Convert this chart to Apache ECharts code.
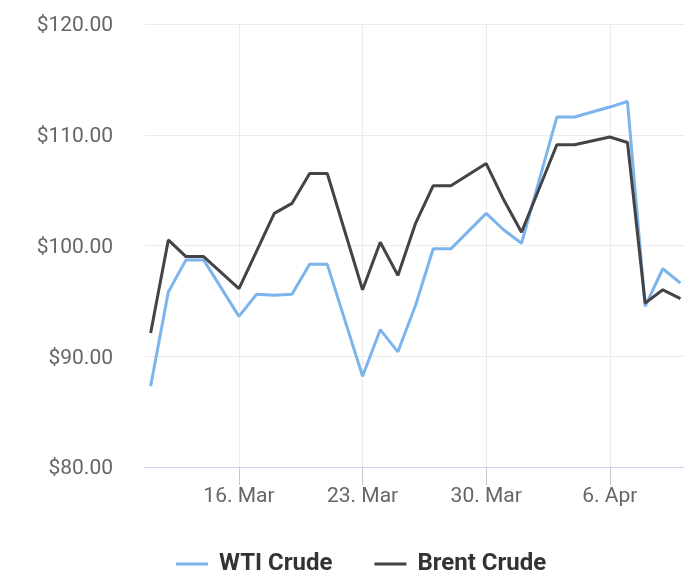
<!DOCTYPE html>
<html>
<head>
<meta charset="utf-8">
<script src="https://cdn.jsdelivr.net/npm/echarts@6/dist/echarts.min.js"></script>
<style>
    html, body { margin: 0; padding: 0; background: #fff; }
    #main { width: 700px; height: 586px; }
</style>
</head>
<body>
<div id="main"></div>
<script>
    // daily closing prices, gaps where no quote was drawn
    var dates = ['2022-03-11', '2022-03-12', '2022-03-13', '2022-03-14', '2022-03-16', '2022-03-17',
        '2022-03-18', '2022-03-19', '2022-03-20', '2022-03-21', '2022-03-23', '2022-03-24',
        '2022-03-25', '2022-03-26', '2022-03-27', '2022-03-28', '2022-03-30', '2022-03-31',
        '2022-04-01', '2022-04-03', '2022-04-04', '2022-04-06', '2022-04-07', '2022-04-08',
        '2022-04-09', '2022-04-10'];
    var wti = [87.3, 95.8, 98.7, 98.7, 93.6, 95.6,
        95.5, 95.6, 98.3, 98.3, 88.2, 92.4,
        90.4, 94.6, 99.7, 99.7, 102.9, 101.4,
        100.2, 111.6, 111.6, 112.5, 113.0, 94.5,
        97.9, 96.6];
    var brent = [92.1, 100.5, 99.0, 99.0, 96.1, 99.5,
        102.9, 103.8, 106.5, 106.5, 96.0, 100.3,
        97.3, 102.0, 105.4, 105.4, 107.4, 104.1,
        101.2, 109.1, 109.1, 109.8, 109.3, 94.8,
        96.0, 95.2];
    var tickDates = ['2022-03-16', '2022-03-23', '2022-03-30', '2022-04-06'];
    var months = ['Jan', 'Feb', 'Mar', 'Apr', 'May', 'Jun', 'Jul', 'Aug', 'Sep', 'Oct', 'Nov', 'Dec'];

    var DAY = 864e5;
    // x is counted in days since 1 Jan 1970 (UTC)
    function dayNum(s) {
        var p = s.split('-');
        return Date.UTC(+p[0], +p[1] - 1, +p[2]) / DAY;
    }
    var tickValues = tickDates.map(dayNum);

    function pairs(vals) {
        return dates.map(function (d, i) { return [dayNum(d), vals[i]]; });
    }

    var myecharts = echarts.init(document.getElementById('main'));
    var option = {
        animation: false,
        color: ['#7cb5ec', '#434348'],
        textStyle: { fontFamily: 'Roboto' },
        grid: { left: 145, right: 16, top: 24, bottom: 119, containLabel: false },
        legend: {
            top: 547,
            left: 171,
            icon: 'rect',
            itemWidth: 32,
            itemHeight: 3,
            itemGap: 42,
            textStyle: { fontSize: 24, fontWeight: 'bold', color: '#333', padding: [0, 0, 0, 6] },
            data: ['WTI Crude', 'Brent Crude']
        },
        xAxis: {
            type: 'value',
            min: function (v) { return v.min - 0.32; },
            max: function (v) { return v.max + 0.2; },
            axisLine: { lineStyle: { color: '#ccd6eb', width: 1 } },
            axisTick: { show: true, length: 18, customValues: tickValues, lineStyle: { color: '#c8c8c8' } },
            axisLabel: {
                customValues: tickValues,
                margin: 19,
                fontSize: 21,
                color: '#666',
                formatter: function (v) {
                    var d = new Date(Math.round(v) * DAY);
                    return d.getUTCDate() + '. ' + months[d.getUTCMonth()];
                }
            },
            splitLine: { show: true, lineStyle: { color: '#ebebeb' } }
        },
        yAxis: {
            type: 'value',
            min: 80,
            max: 120,
            interval: 10,
            axisLine: { show: false },
            axisTick: { show: false },
            axisLabel: {
                margin: 32,
                formatter: function (v) { return '{p|$' + v.toFixed(2) + '}'; },
                rich: {
                    p: { fontSize: 21, color: '#666', padding: [4, 0, 0, 0] }
                }
            },
            splitLine: { lineStyle: { color: '#ebebeb' } }
        },
        series: [{
            name: 'WTI Crude',
            type: 'line',
            data: pairs(wti),
            symbol: 'none',
            lineStyle: { width: 3 }
        }, {
            name: 'Brent Crude',
            type: 'line',
            data: pairs(brent),
            symbol: 'none',
            lineStyle: { width: 3 }
        }]
    };
    myecharts.setOption(option);
</script>
</body>
</html>
